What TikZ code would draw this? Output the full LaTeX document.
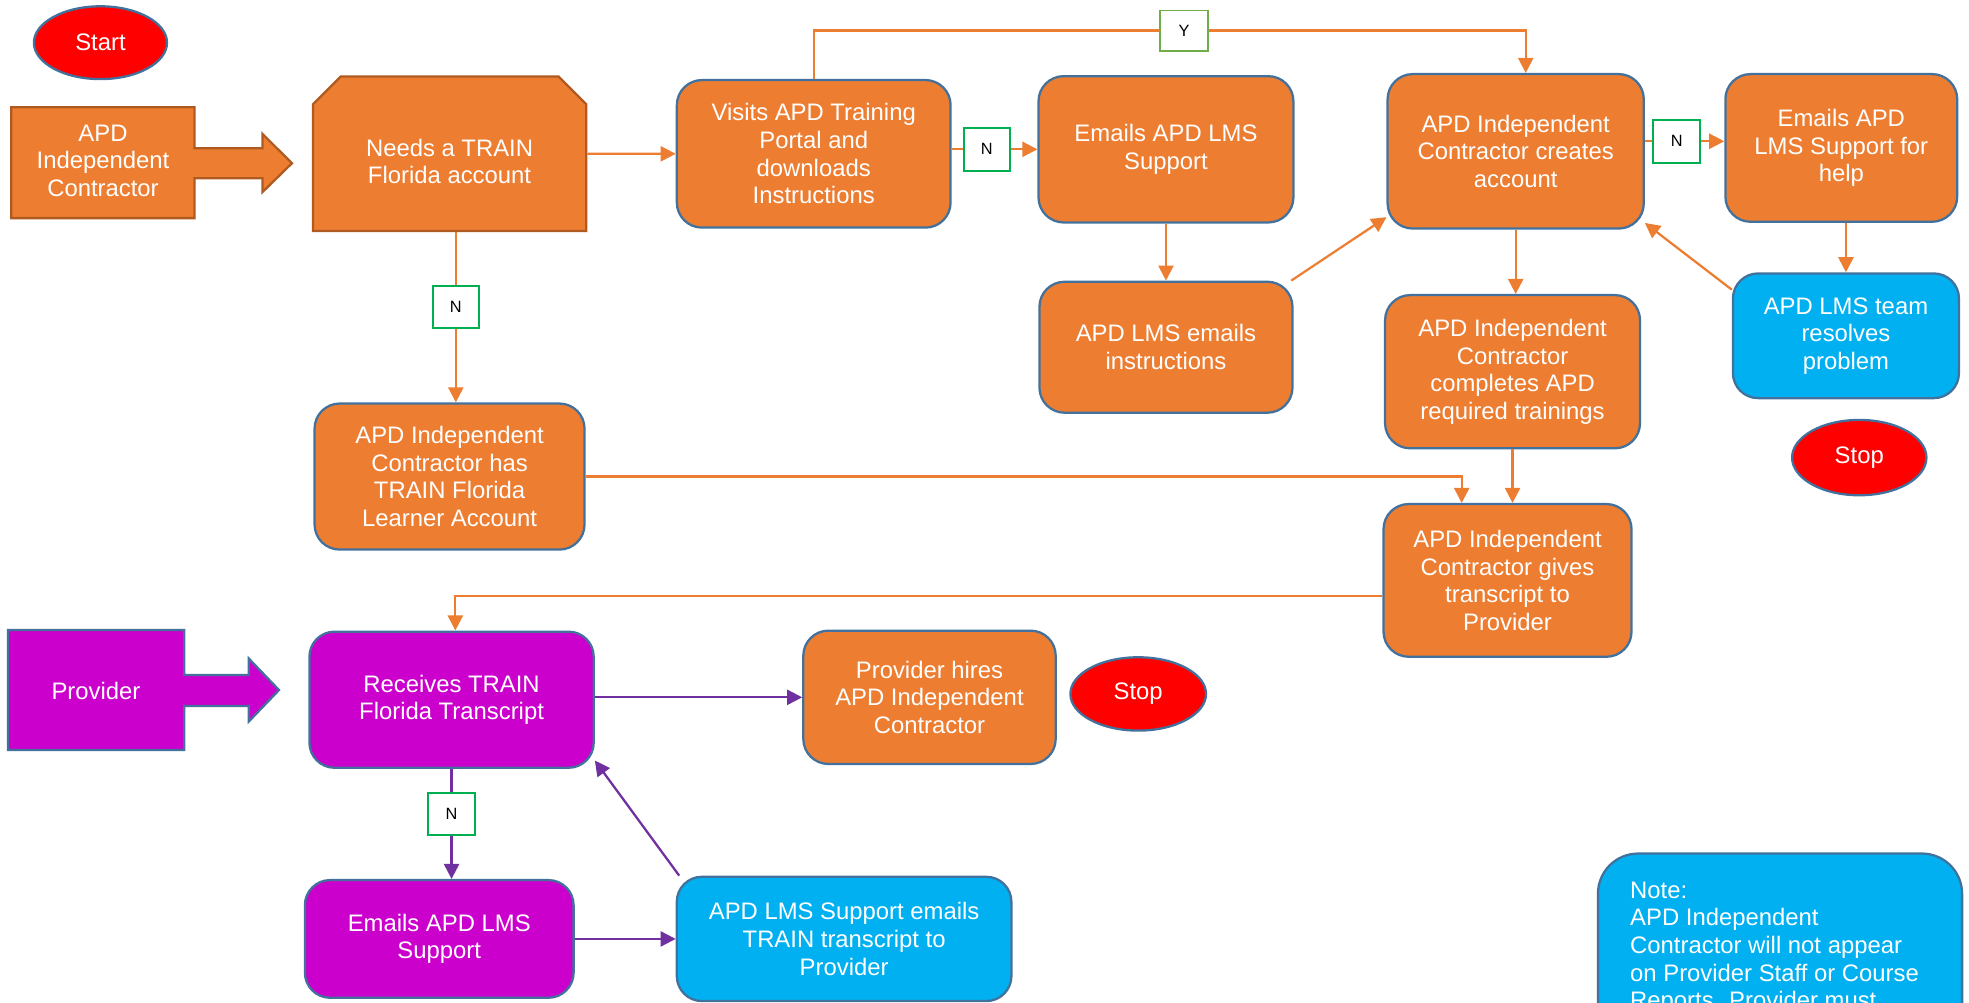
\documentclass[tikz,border=0pt]{standalone}
\usepackage{fontspec}
\setmainfont{Liberation Sans}
\usepackage{xcolor}
\usepackage{tikz}
\usetikzlibrary{calc, arrows.meta, shapes.geometric, shapes.misc, positioning}

\definecolor{apdorange}{HTML}{ED7D31}
\definecolor{apdedge}{HTML}{AE5A21}
\definecolor{boxline}{HTML}{41719C}
\definecolor{provmagenta}{HTML}{CC00CC}
\definecolor{lmsblue}{HTML}{00B0F0}
\definecolor{stopred}{HTML}{FF0000}
\definecolor{provpurple}{HTML}{7030A0}
\definecolor{nogreen}{HTML}{00B050}
\definecolor{yesgreen}{HTML}{70AD47}

\newcommand{\boxfont}{\fontsize{19}{22}\selectfont}
\newcommand{\tagfont}{\fontsize{13}{15}\selectfont}

\tikzset{
    roundnode/.style = {draw=boxline, line width=1.8pt, rectangle, rounded corners=20pt, fill=apdorange,
      text=white, inner sep=0pt, node distance=0pt, align=center, font=\boxfont},
    bluenode/.style = {roundnode, fill=lmsblue},
    magentanode/.style = {roundnode, fill=provmagenta},
    chamfernode/.style = {draw=apdedge, line width=1.8pt, chamfered rectangle,
      chamfered rectangle corners={north west, north east}, chamfered rectangle xsep=11pt,
      chamfered rectangle ysep=11pt, fill=apdorange, text=white, inner sep=0pt, align=center, font=\boxfont},
    ellipsenode/.style = {draw=boxline, line width=1.8pt, ellipse, fill=stopred, text=white,
      inner sep=0pt, node distance=0pt, font=\boxfont},
    textnode/.style = {draw=none, fill=none, rectangle, inner sep=0pt, text=white, node distance=0pt,
      align=center, font=\boxfont},
    yesnode/.style = {draw=yesgreen, fill=white, text=black, line width=1.5pt, rectangle,
      minimum width=38pt, minimum height=32pt, inner sep=0pt, font=\tagfont},
    nonode/.style = {yesnode, draw=nogreen, minimum width=37pt, minimum height=34pt},
    connect/.style = {apdorange, line width=1.8pt, -{Triangle[length=12pt, width=12pt]}},
    pconnect/.style = {connect, provpurple}
}

\begin{document}
\begin{tikzpicture}[x=1pt, y=-1pt, node distance=0pt]
    \useasboundingbox (0,0) rectangle (1568,798);

    % contractor lane
    \node [ellipsenode, name=Start, minimum width=106pt, minimum height=58pt] at (80,34) {Start};
    \draw [fill=apdorange, draw=apdedge, line width=1.8pt] (9,85.5) -- (154.8,85.5) -- (154.8,118) -- (209,118)
        -- (209,106.6) -- (232.5,130) -- (209,153) -- (209,142) -- (154.8,142) -- (154.8,173.7) -- (9,173.7) -- cycle;
    \node [textnode, name=Contractor, below of=Start, xshift=2pt, yshift=-94pt] {APD\\Independent\\Contractor};

    \node [chamfernode, name=Needs, below of=Start, xshift=278pt, yshift=-88.5pt, minimum width=217.6pt,
        minimum height=123pt] {\phantom{Needs a TRAIN}\\\phantom{Florida account}};
    \node [textnode, name=NeedsText, below of=Needs, yshift=-6pt] {Needs a TRAIN\\Florida account};
    \node [roundnode, name=Visits, right of=Needs, xshift=290pt, minimum width=218pt, minimum height=117.5pt]
        {Visits APD Training\\Portal and\\downloads\\Instructions};
    \node [roundnode, name=EmailsLMS, right of=Visits, xshift=280.5pt, yshift=3.6pt, minimum width=203pt,
        minimum height=116.5pt] {Emails APD LMS\\Support};
    \node [roundnode, name=LMSmail, below of=EmailsLMS, yshift=-157.6pt, minimum width=201.5pt,
        minimum height=104.3pt] {APD LMS emails\\instructions};
    \node [roundnode, name=Creates, right of=EmailsLMS, xshift=278.5pt, yshift=-1.6pt, minimum width=204pt,
        minimum height=123pt] {APD Independent\\Contractor creates\\account};
    \node [roundnode, name=Help, right of=Creates, xshift=259.3pt, yshift=2.7pt, minimum width=184.6pt,
        minimum height=117.6pt] {Emails APD\\LMS Support for\\help};
    \node [bluenode, name=Team, below of=Help, xshift=3.7pt, yshift=-149.6pt, minimum width=180pt,
        minimum height=99.3pt] {APD LMS team\\resolves\\problem};
    \node [ellipsenode, name=StopA, below of=Team, xshift=10.6pt, yshift=-97pt, minimum width=107pt,
        minimum height=60pt] {Stop};
    \node [roundnode, name=Completes, below of=Creates, xshift=-2.5pt, yshift=-175.5pt, minimum width=203pt,
        minimum height=122pt] {APD Independent\\Contractor\\completes APD\\required trainings};
    \node [roundnode, name=Gives, below of=Completes, xshift=-4pt, yshift=-166.2pt, minimum width=197.5pt,
        minimum height=121.6pt] {APD Independent\\Contractor gives\\transcript to\\Provider};
    \node [roundnode, name=HasAccount, below of=Needs, yshift=-257pt, minimum width=215pt,
        minimum height=116.3pt] {APD Independent\\Contractor has\\TRAIN Florida\\Learner Account};

    % provider lane
    \draw [fill=provmagenta, draw=boxline, line width=1.8pt] (6.4,501.7) -- (146.8,501.7) -- (146.8,537.5)
        -- (198,537.5) -- (198,524.3) -- (222.2,549.5) -- (198,574.7) -- (198,562.2) -- (146.8,562.2)
        -- (146.8,597.3) -- (6.4,597.3) -- cycle;
    \node [magentanode, name=Receives, below of=HasAccount, xshift=1.6pt, yshift=-177.7pt, minimum width=226.4pt,
        minimum height=108.4pt] {Receives TRAIN\\Florida Transcript};
    \node [textnode, name=Provider, left of=Receives, xshift=-283.2pt, yshift=7.2pt] {Provider};
    \node [roundnode, name=Hires, right of=Receives, xshift=380.6pt, yshift=1.9pt, minimum width=201pt,
        minimum height=106.2pt] {Provider hires\\APD Independent\\Contractor};
    \node [ellipsenode, name=StopB, right of=Hires, xshift=166.2pt, yshift=2.7pt, minimum width=108pt,
        minimum height=58.4pt] {Stop};
    \node [magentanode, name=EmailsProv, below of=Receives, xshift=-9.8pt, yshift=-190.5pt, minimum width=214pt,
        minimum height=93.7pt] {Emails APD LMS\\Support};
    \node [bluenode, name=SupportMail, right of=EmailsProv, xshift=322.4pt, minimum width=266.5pt,
        minimum height=99pt] {APD LMS Support emails\\TRAIN transcript to\\Provider};

    % note
    \node [bluenode, name=Note, anchor=north west, rounded corners=32pt, minimum width=290pt,
        minimum height=260pt] at (1271.6,678.8) {};
    \node [textnode, name=NoteText, anchor=north west, align=left] at (1298,702)
        {Note:\\APD Independent\\Contractor will not appear\\on Provider Staff or Course\\Reports. Provider must};

    % orange connectors
    \draw [connect] (Needs) -- (Visits);
    \draw [connect] (Visits.north) -- ++(0,-38.5) -| node [yesnode, pos=0.26, name=YesA] {Y}
        ([xshift=8pt]Creates.north);
    \draw [connect] (Visits.east |- EmailsLMS) -- node [nonode, pos=0.41, name=NoA] {N} (EmailsLMS.west);
    \draw [connect] (EmailsLMS) -- (LMSmail);
    \draw [connect] (LMSmail.28) -- (Creates.207);
    \draw [connect] ([yshift=8pt]Creates.east) -- node [nonode, pos=0.4, name=NoB] {N}
        ([yshift=8pt]Creates.east -| Help.west);
    \draw [connect] (Creates) -- (Creates |- Completes.north);
    \draw [connect] (Team.north |- Help.south) -- (Team.north);
    \draw [connect] (Team.158) -- (Creates.-29);
    \draw [connect] (Completes) -- (Completes |- Gives.north);
    \draw [connect] ([xshift=5pt]Needs.south) -- node [nonode, pos=0.44, name=NoC] {N}
        ([xshift=5pt]Needs.south |- HasAccount.north);
    \draw [connect] (HasAccount.east) -| ([xshift=-36.5pt]Gives.north);
    \draw [connect] ([yshift=-12.4pt]Gives.west) -| ([xshift=3pt]Receives.north);

    % purple connectors
    \draw [pconnect] (Receives.east |- Hires) -- (Hires.west);
    \draw [pconnect] (Receives) -- node [nonode, pos=0.41, name=NoD] {N} (Receives |- EmailsProv.north);
    \draw [pconnect] (EmailsProv) -- (EmailsProv -| SupportMail.west);
    \draw [pconnect] (SupportMail.159) -- (Receives.-23);
\end{tikzpicture}
\end{document}
